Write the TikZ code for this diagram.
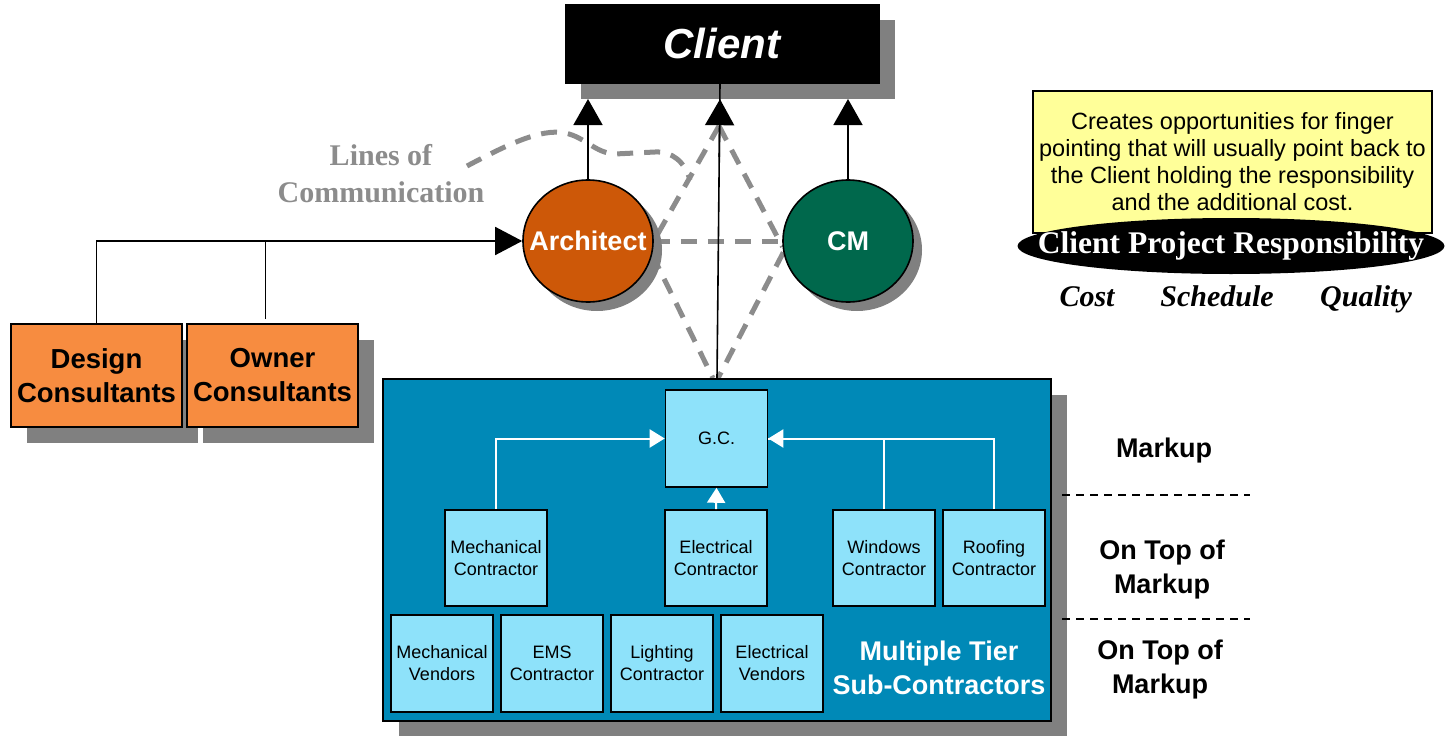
\documentclass[tikz,border=0pt]{standalone}
\usepackage{fontspec}
\setmainfont{Liberation Sans}
\newfontfamily\tnrfont{Liberation Serif}
\usetikzlibrary{arrows.meta,shapes.geometric,shadows,calc}
\pgfdeclarelayer{bglayer}
\pgfsetlayers{bglayer,main}
\definecolor{shadowgray}{RGB}{128,128,128}
\definecolor{archorange}{RGB}{205,88,8}
\definecolor{cmgreen}{RGB}{0,104,76}
\definecolor{consorange}{RGB}{247,140,64}
\definecolor{tierblue}{RGB}{0,137,183}
\definecolor{subcyan}{RGB}{142,226,250}
\definecolor{noteyellow}{RGB}{255,255,153}
\definecolor{comgray}{RGB}{140,140,140}
\tikzset{
  shadowed/.style={drop shadow={shadow xshift=#1, shadow yshift=-#1, fill=shadowgray, opacity=1}},
  clientbox/.style={draw=black, fill=black, minimum width=314pt, minimum height=79pt, inner sep=0pt,
    text=white, font=\fontsize{42}{48}\selectfont\bfseries\itshape, shadowed=16pt},
  circ/.style={ellipse, draw=black, line width=1.6pt, minimum width=130pt, minimum height=122pt, inner sep=0pt,
    shadowed=9pt},
  circtext/.style={text=white, font=\fontsize{27}{32}\selectfont\bfseries},
  consbox/.style={draw=black, line width=1.6pt, fill=consorange, minimum width=171pt, minimum height=103pt,
    inner sep=0pt, align=center, font=\fontsize{27.5}{34}\selectfont\bfseries, shadowed=16pt},
  tierbox/.style={draw=black, line width=1.6pt, fill=tierblue, minimum width=668pt, minimum height=342pt,
    inner sep=0pt, shadowed=16pt},
  subbox/.style={draw=black, line width=1.6pt, fill=subcyan, minimum width=102pt, minimum height=96pt,
    inner sep=0pt, align=center, font=\fontsize{18}{22}\selectfont},
  conn/.style={draw=black, line width=1.6pt},
  bigarrow/.style={conn, -{Triangle[length=26pt,width=29pt]}},
  warrow/.style={draw=white, line width=2pt, -{Triangle[length=15pt,width=18pt]}},
  wline/.style={draw=white, line width=2pt},
  comline/.style={draw=comgray, line width=5pt, dash pattern=on 16pt off 11pt},
  sidelabel/.style={align=center, font=\fontsize{27}{34}\selectfont\bfseries},
  sepline/.style={draw=black, line width=1.4pt, dash pattern=on 8pt off 6pt},
  csq/.style={anchor=base, font=\tnrfont\fontsize{30}{36}\selectfont\bfseries\itshape}
}
\begin{document}
\begin{tikzpicture}[x=1pt,y=-1pt]
\useasboundingbox (0,0) rectangle (1449,736);

% nodes
\node[clientbox] (client) at (722,43.5) {Client};
\node[circ, fill=archorange, label={[circtext]center:Architect}] (arch) at (588,241) {};
\node[circ, fill=cmgreen, label={[circtext]center:CM}] (cm) at (848,241) {};
\node[consbox] (design) at (96.5,375.5) {Design\\Consultants};
\node[consbox] (owner) at (272.5,375.5) {Owner\\Consultants};
\node[tierbox] (tier) at (717,550) {};

\node[subbox, minimum height=97pt] (gc) at (716.5,438.5) {G.C.};
\node[subbox] (mc) at (496,558) {Mechanical\\Contractor};
\node[subbox] (ec) at (716,558) {Electrical\\Contractor};
\node[subbox] (wc) at (884,558) {Windows\\Contractor};
\node[subbox] (rc) at (994,558) {Roofing\\Contractor};
\node[subbox, minimum height=97pt] (mv) at (442,663.5) {Mechanical\\Vendors};
\node[subbox, minimum height=97pt] (ems) at (552,663.5) {EMS\\Contractor};
\node[subbox, minimum height=97pt] (lc) at (662,663.5) {Lighting\\Contractor};
\node[subbox, minimum height=97pt] (ev) at (772,663.5) {Electrical\\Vendors};
\node[align=center, text=white, font=\fontsize{27}{34}\selectfont\bfseries] (tiertitle) at (939,668)
  {Multiple Tier\\Sub-Contractors};

\node[align=center, text=comgray, font=\tnrfont\fontsize{30}{37}\selectfont\bfseries] (loc) at (381,174)
  {Lines of\\Communication};

% note
\node[draw=black, line width=1.2pt, fill=noteyellow, minimum width=399pt, minimum height=142pt, inner sep=0pt,
  align=center, font=\fontsize{23.5}{27}\selectfont] (note) at (1232.5,162)
  {Creates opportunities for finger\\pointing that will usually point back to\\the Client holding the responsibility\\and the additional cost.};
\node[ellipse, fill=black, minimum width=427pt, minimum height=56pt, inner sep=0pt,
  label={[text=white, font=\tnrfont\fontsize{31.5}{36}\selectfont\bfseries]center:Client Project Responsibility}]
  (resp) at (1231,246) {};
\node[csq] (cost) at (1087,306) {Cost};
\node[csq] (sched) at (1217,306) {Schedule};
\node[csq] (qual) at (1366,306) {Quality};

% side labels
\node[sidelabel] (mk1) at (1164,451) {Markup};
\node[sidelabel] (mk2) at (1162,570) {On Top of\\Markup};
\node[sidelabel] (mk3) at (1160,670) {On Top of\\Markup};
\coordinate (s1a) at (1062,495);
\coordinate (s1b) at (1250,495);
\coordinate (s2a) at (1062,619);
\coordinate (s2b) at (1250,619);
\draw[sepline] (s1a) -- (s1b);
\draw[sepline] (s2a) -- (s2b);

% lines of communication (behind)
\coordinate (apex) at (719,126);
\coordinate (curvestart) at (467,166);
\coordinate (gctopl) at ($(tier.north)+(-4,0)$);
\coordinate (gctopr) at ($(tier.north)+(1,0)$);
\begin{pgfonlayer}{bglayer}
\draw[comline] (curvestart) .. controls (505,146) and (540,128) .. (565,133)
   .. controls (585,137) and (595,153) .. (615,154) -- (655,152)
   .. controls (672,151) and (685,162) .. (690,180);
\draw[comline] (apex) -- (arch.east);
\draw[comline] (apex) -- (cm.185);
\draw[comline] (arch.east) -- (cm.west);
\draw[comline] (arch.-12) -- (gctopl);
\draw[comline] (cm.190) -- (gctopr);
\end{pgfonlayer}

% black connectors
\coordinate (cbot) at (722,99);
\draw[conn] (tier.north) -- ($(client.south)+(-2,0)$);
\draw[bigarrow] ($(tier.north)!0.75!($(client.south)+(-2,0)$)$) -- ($(client.south)+(-2,16)$);
\draw[bigarrow] (arch.north) -- (arch.north |- cbot);
\draw[bigarrow] (cm.north) -- (cm.north |- cbot);
\draw[conn, -{Triangle[length=27pt,width=28pt]}] (design.north) |- (arch.west);
\coordinate (ownertop) at ($(owner.north)+(-7,-4)$);
\draw[conn] (ownertop) -- (ownertop |- arch.west);

% white connectors in tier box
\draw[wline] (rc.north) |- (gc.east);
\draw[warrow] (wc.north) |- (gc.east);
\draw[warrow] (mc.north) |- (gc.west);
\draw[warrow] (ec.north) -- (gc.south);
\end{tikzpicture}
\end{document}
